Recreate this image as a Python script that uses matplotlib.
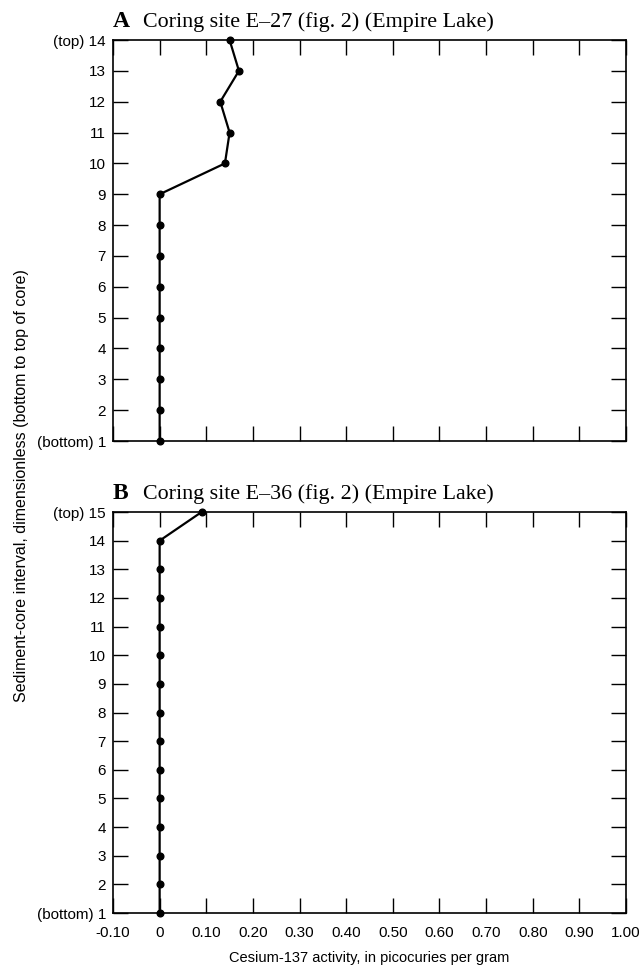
import matplotlib
matplotlib.use("Agg")
import matplotlib.pyplot as plt

# cesium-137 activity per sediment-core interval
intervals_a = [1, 2, 3, 4, 5, 6, 7, 8, 9, 10, 11, 12, 13, 14]
cesium_a = [0, 0, 0, 0, 0, 0, 0, 0, 0, 0.14, 0.15, 0.13, 0.17, 0.15]

intervals_b = [1, 2, 3, 4, 5, 6, 7, 8, 9, 10, 11, 12, 13, 14, 15]
cesium_b = [0, 0, 0, 0, 0, 0, 0, 0, 0, 0, 0, 0, 0, 0, 0.09]

xticks = [-0.1, 0, 0.1, 0.2, 0.3, 0.4, 0.5, 0.6, 0.7, 0.8, 0.9, 1.0]
xticklabels = ["-0.10", "0", "0.10", "0.20", "0.30", "0.40", "0.50",
               "0.60", "0.70", "0.80", "0.90", "1.00"]

sans = ["Liberation Sans", "DejaVu Sans"]
serif = ["Liberation Serif", "DejaVu Serif"]


def ylabels(n):
    labs = [str(i) for i in range(1, n + 1)]
    labs[0] = "(bottom) 1"
    labs[-1] = "(top) %d" % n
    return labs


def panel(ax, y, x, n, letter, title, show_x):
    ax.plot(x, y, color="black", lw=1.6, marker="o", ms=4.8, clip_on=False, zorder=5)
    ax.set_xlim(-0.1, 1.0)
    ax.set_ylim(1, n)
    ax.set_xticks(xticks)
    ax.set_yticks(range(1, n + 1))
    ax.set_yticklabels(ylabels(n), family=sans, fontsize=11)
    if show_x:
        ax.set_xticklabels(xticklabels, family=sans, fontsize=11)
    else:
        ax.set_xticklabels([])
    ax.tick_params(direction="in", length=11, width=1, top=True, right=True, pad=5)
    ax.tick_params(axis="x", pad=9)
    for s in ax.spines.values():
        s.set_linewidth(1.2)
    ax.text(0, 1.033, letter, transform=ax.transAxes, family=serif,
            fontweight="bold", fontsize=17, va="baseline", ha="left")
    ax.text(0.058, 1.033, title, transform=ax.transAxes, family=serif,
            fontsize=15.8, va="baseline", ha="left")


fig = plt.figure(figsize=(6.41, 9.71), dpi=100)
ax1 = fig.add_axes([0.1763, 0.5458, 0.8003, 0.4130])
ax2 = fig.add_axes([0.1763, 0.0597, 0.8003, 0.4130])

panel(ax1, intervals_a, cesium_a, 14, "A", "Coring site E\u201327 (fig. 2) (Empire Lake)", False)
panel(ax2, intervals_b, cesium_b, 15, "B", "Coring site E\u201336 (fig. 2) (Empire Lake)", True)

ax2.set_xlabel("Cesium-137 activity, in picocuries per gram", family=sans,
               fontsize=10.5, labelpad=8)
fig.text(0.033, 0.5, "Sediment-core interval, dimensionless (bottom to top of core)",
         rotation=90, va="center", ha="center", family=sans, fontsize=11.5)

fig.savefig("out.png", dpi=100)
